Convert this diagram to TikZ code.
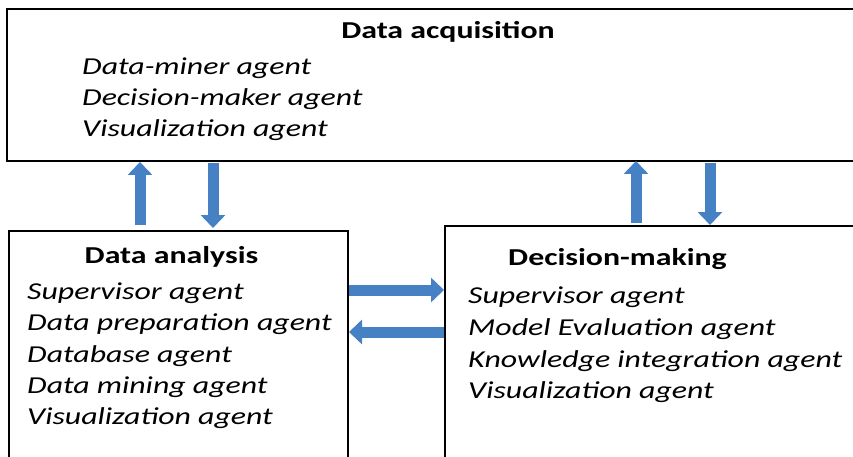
\documentclass[tikz,border=0pt]{standalone}
\usepackage{fontspec}
\setmainfont{Carlito}[FakeStretch=1.31]
\usetikzlibrary{arrows.meta}
\definecolor{arrowblue}{RGB}{70,130,195}
\tikzset{
  box/.style={draw=black, line width=2.5pt, rectangle, inner sep=0pt, outer sep=0pt, anchor=north west},
  head/.style={anchor=base, inner sep=0pt, font=\fontsize{24.3pt}{31pt}\selectfont\bfseries},
  item/.style={anchor=base west, inner sep=0pt, font=\fontsize{24.3pt}{31pt}\selectfont\itshape},
  barrow/.style={draw=arrowblue, line width=11pt, -{Triangle[width=24pt,length=13pt]}},
}
\begin{document}
\begin{tikzpicture}[x=1pt, y=-1pt]
\useasboundingbox (0,0) rectangle (853,457);
\clip (0,0) rectangle (853,457);
% boxes
\node[box, minimum width=860pt, minimum height=152pt] (acq) at (7,9) {};
\node[box, minimum width=339pt, minimum height=250pt] (ana) at (9,231) {};
\node[box, minimum width=420pt, minimum height=260pt] (dec) at (445,226) {};
% texts: data acquisition
\node[head] (acqh) at (448,39) {Data acquisition};
\node[item] (acq1) at (82,75) {Data-miner agent};
\node[item] (acq2) at (82,106) {Decision-maker agent};
\node[item] (acq3) at (82,137) {Visualization agent};
% data analysis
\node[head] (anah) at (171.5,263) {Data analysis};
\node[item] (ana1) at (27,299) {Supervisor agent};
\node[item] (ana2) at (27,330) {Data preparation agent};
\node[item] (ana3) at (27,362) {Database agent};
\node[item] (ana4) at (27,393) {Data mining agent};
\node[item] (ana5) at (27,424) {Visualization agent};
% decision making
\node[head] (dech) at (617.5,265) {Decision-making};
\node[item] (dec1) at (468,303) {Supervisor agent};
\node[item] (dec2) at (468,335) {Model Evaluation agent};
\node[item] (dec3) at (468,367) {Knowledge integration agent};
\node[item] (dec4) at (468,398) {Visualization agent};
% arrow positions
\coordinate (xa) at (140,0);
\coordinate (xb) at (213,0);
\coordinate (xc) at (636,0);
\coordinate (xd) at (710,0);
\coordinate (ya) at (0,290);
\coordinate (yb) at (0,332);
% arrows
\draw[barrow, shorten <=6pt, shorten >=1pt] (ana.north -| xa) -- (acq.south -| xa);
\draw[barrow, shorten <=2pt, shorten >=3pt] (acq.south -| xb) -- (ana.north -| xb);
\draw[barrow, shorten <=3pt, shorten >=0pt] (dec.north -| xc) -- (acq.south -| xc);
\draw[barrow, shorten <=2pt, shorten >=1pt] (acq.south -| xd) -- (dec.north -| xd);
\draw[barrow, shorten <=1pt, shorten >=1pt] (ana.east |- ya) -- (dec.west |- ya);
\draw[barrow, shorten <=1pt, shorten >=1pt] (dec.west |- yb) -- (ana.east |- yb);
\end{tikzpicture}
\end{document}
